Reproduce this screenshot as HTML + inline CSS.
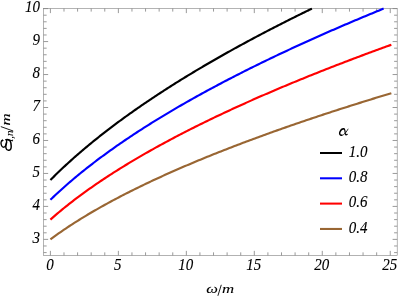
<!DOCTYPE html>
<html><head><meta charset="utf-8"><style>
html,body{margin:0;padding:0;background:#fff;}
body{width:399px;height:298px;overflow:hidden;}
svg{display:block;will-change:transform;opacity:0.9999;}
text{font-family:"Liberation Serif",serif;font-style:italic;font-size:15px;fill:#000;stroke:#000;stroke-width:0.1px;}
</style></head><body>
<svg width="399" height="298" viewBox="0 0 399 298">
<rect x="0" y="0" width="399" height="298" fill="#fff"/>
<rect x="43.55" y="8.50" width="353.65" height="246.95" fill="none" stroke="#808080" stroke-width="0.6"/>
<g stroke="#808080" stroke-width="0.8">
<line x1="50.40" y1="255.45" x2="50.40" y2="250.85"/>
<line x1="50.40" y1="8.50" x2="50.40" y2="13.10"/>
<line x1="63.99" y1="255.45" x2="63.99" y2="252.35"/>
<line x1="63.99" y1="8.50" x2="63.99" y2="11.60"/>
<line x1="77.59" y1="255.45" x2="77.59" y2="252.35"/>
<line x1="77.59" y1="8.50" x2="77.59" y2="11.60"/>
<line x1="91.18" y1="255.45" x2="91.18" y2="252.35"/>
<line x1="91.18" y1="8.50" x2="91.18" y2="11.60"/>
<line x1="104.78" y1="255.45" x2="104.78" y2="252.35"/>
<line x1="104.78" y1="8.50" x2="104.78" y2="11.60"/>
<line x1="118.37" y1="255.45" x2="118.37" y2="250.85"/>
<line x1="118.37" y1="8.50" x2="118.37" y2="13.10"/>
<line x1="131.96" y1="255.45" x2="131.96" y2="252.35"/>
<line x1="131.96" y1="8.50" x2="131.96" y2="11.60"/>
<line x1="145.56" y1="255.45" x2="145.56" y2="252.35"/>
<line x1="145.56" y1="8.50" x2="145.56" y2="11.60"/>
<line x1="159.15" y1="255.45" x2="159.15" y2="252.35"/>
<line x1="159.15" y1="8.50" x2="159.15" y2="11.60"/>
<line x1="172.75" y1="255.45" x2="172.75" y2="252.35"/>
<line x1="172.75" y1="8.50" x2="172.75" y2="11.60"/>
<line x1="186.34" y1="255.45" x2="186.34" y2="250.85"/>
<line x1="186.34" y1="8.50" x2="186.34" y2="13.10"/>
<line x1="199.93" y1="255.45" x2="199.93" y2="252.35"/>
<line x1="199.93" y1="8.50" x2="199.93" y2="11.60"/>
<line x1="213.53" y1="255.45" x2="213.53" y2="252.35"/>
<line x1="213.53" y1="8.50" x2="213.53" y2="11.60"/>
<line x1="227.12" y1="255.45" x2="227.12" y2="252.35"/>
<line x1="227.12" y1="8.50" x2="227.12" y2="11.60"/>
<line x1="240.72" y1="255.45" x2="240.72" y2="252.35"/>
<line x1="240.72" y1="8.50" x2="240.72" y2="11.60"/>
<line x1="254.31" y1="255.45" x2="254.31" y2="250.85"/>
<line x1="254.31" y1="8.50" x2="254.31" y2="13.10"/>
<line x1="267.90" y1="255.45" x2="267.90" y2="252.35"/>
<line x1="267.90" y1="8.50" x2="267.90" y2="11.60"/>
<line x1="281.50" y1="255.45" x2="281.50" y2="252.35"/>
<line x1="281.50" y1="8.50" x2="281.50" y2="11.60"/>
<line x1="295.09" y1="255.45" x2="295.09" y2="252.35"/>
<line x1="295.09" y1="8.50" x2="295.09" y2="11.60"/>
<line x1="308.69" y1="255.45" x2="308.69" y2="252.35"/>
<line x1="308.69" y1="8.50" x2="308.69" y2="11.60"/>
<line x1="322.28" y1="255.45" x2="322.28" y2="250.85"/>
<line x1="322.28" y1="8.50" x2="322.28" y2="13.10"/>
<line x1="335.87" y1="255.45" x2="335.87" y2="252.35"/>
<line x1="335.87" y1="8.50" x2="335.87" y2="11.60"/>
<line x1="349.47" y1="255.45" x2="349.47" y2="252.35"/>
<line x1="349.47" y1="8.50" x2="349.47" y2="11.60"/>
<line x1="363.06" y1="255.45" x2="363.06" y2="252.35"/>
<line x1="363.06" y1="8.50" x2="363.06" y2="11.60"/>
<line x1="376.66" y1="255.45" x2="376.66" y2="252.35"/>
<line x1="376.66" y1="8.50" x2="376.66" y2="11.60"/>
<line x1="390.25" y1="255.45" x2="390.25" y2="250.85"/>
<line x1="390.25" y1="8.50" x2="390.25" y2="13.10"/>
<line x1="43.55" y1="252.58" x2="46.65" y2="252.58"/>
<line x1="397.20" y1="252.58" x2="394.10" y2="252.58"/>
<line x1="43.55" y1="245.98" x2="46.65" y2="245.98"/>
<line x1="397.20" y1="245.98" x2="394.10" y2="245.98"/>
<line x1="43.55" y1="239.39" x2="48.15" y2="239.39"/>
<line x1="397.20" y1="239.39" x2="392.60" y2="239.39"/>
<line x1="43.55" y1="232.80" x2="46.65" y2="232.80"/>
<line x1="397.20" y1="232.80" x2="394.10" y2="232.80"/>
<line x1="43.55" y1="226.20" x2="46.65" y2="226.20"/>
<line x1="397.20" y1="226.20" x2="394.10" y2="226.20"/>
<line x1="43.55" y1="219.61" x2="46.65" y2="219.61"/>
<line x1="397.20" y1="219.61" x2="394.10" y2="219.61"/>
<line x1="43.55" y1="213.01" x2="46.65" y2="213.01"/>
<line x1="397.20" y1="213.01" x2="394.10" y2="213.01"/>
<line x1="43.55" y1="206.42" x2="48.15" y2="206.42"/>
<line x1="397.20" y1="206.42" x2="392.60" y2="206.42"/>
<line x1="43.55" y1="199.83" x2="46.65" y2="199.83"/>
<line x1="397.20" y1="199.83" x2="394.10" y2="199.83"/>
<line x1="43.55" y1="193.23" x2="46.65" y2="193.23"/>
<line x1="397.20" y1="193.23" x2="394.10" y2="193.23"/>
<line x1="43.55" y1="186.64" x2="46.65" y2="186.64"/>
<line x1="397.20" y1="186.64" x2="394.10" y2="186.64"/>
<line x1="43.55" y1="180.04" x2="46.65" y2="180.04"/>
<line x1="397.20" y1="180.04" x2="394.10" y2="180.04"/>
<line x1="43.55" y1="173.45" x2="48.15" y2="173.45"/>
<line x1="397.20" y1="173.45" x2="392.60" y2="173.45"/>
<line x1="43.55" y1="166.86" x2="46.65" y2="166.86"/>
<line x1="397.20" y1="166.86" x2="394.10" y2="166.86"/>
<line x1="43.55" y1="160.26" x2="46.65" y2="160.26"/>
<line x1="397.20" y1="160.26" x2="394.10" y2="160.26"/>
<line x1="43.55" y1="153.67" x2="46.65" y2="153.67"/>
<line x1="397.20" y1="153.67" x2="394.10" y2="153.67"/>
<line x1="43.55" y1="147.07" x2="46.65" y2="147.07"/>
<line x1="397.20" y1="147.07" x2="394.10" y2="147.07"/>
<line x1="43.55" y1="140.48" x2="48.15" y2="140.48"/>
<line x1="397.20" y1="140.48" x2="392.60" y2="140.48"/>
<line x1="43.55" y1="133.89" x2="46.65" y2="133.89"/>
<line x1="397.20" y1="133.89" x2="394.10" y2="133.89"/>
<line x1="43.55" y1="127.29" x2="46.65" y2="127.29"/>
<line x1="397.20" y1="127.29" x2="394.10" y2="127.29"/>
<line x1="43.55" y1="120.70" x2="46.65" y2="120.70"/>
<line x1="397.20" y1="120.70" x2="394.10" y2="120.70"/>
<line x1="43.55" y1="114.10" x2="46.65" y2="114.10"/>
<line x1="397.20" y1="114.10" x2="394.10" y2="114.10"/>
<line x1="43.55" y1="107.51" x2="48.15" y2="107.51"/>
<line x1="397.20" y1="107.51" x2="392.60" y2="107.51"/>
<line x1="43.55" y1="100.92" x2="46.65" y2="100.92"/>
<line x1="397.20" y1="100.92" x2="394.10" y2="100.92"/>
<line x1="43.55" y1="94.32" x2="46.65" y2="94.32"/>
<line x1="397.20" y1="94.32" x2="394.10" y2="94.32"/>
<line x1="43.55" y1="87.73" x2="46.65" y2="87.73"/>
<line x1="397.20" y1="87.73" x2="394.10" y2="87.73"/>
<line x1="43.55" y1="81.13" x2="46.65" y2="81.13"/>
<line x1="397.20" y1="81.13" x2="394.10" y2="81.13"/>
<line x1="43.55" y1="74.54" x2="48.15" y2="74.54"/>
<line x1="397.20" y1="74.54" x2="392.60" y2="74.54"/>
<line x1="43.55" y1="67.95" x2="46.65" y2="67.95"/>
<line x1="397.20" y1="67.95" x2="394.10" y2="67.95"/>
<line x1="43.55" y1="61.35" x2="46.65" y2="61.35"/>
<line x1="397.20" y1="61.35" x2="394.10" y2="61.35"/>
<line x1="43.55" y1="54.76" x2="46.65" y2="54.76"/>
<line x1="397.20" y1="54.76" x2="394.10" y2="54.76"/>
<line x1="43.55" y1="48.16" x2="46.65" y2="48.16"/>
<line x1="397.20" y1="48.16" x2="394.10" y2="48.16"/>
<line x1="43.55" y1="41.57" x2="48.15" y2="41.57"/>
<line x1="397.20" y1="41.57" x2="392.60" y2="41.57"/>
<line x1="43.55" y1="34.98" x2="46.65" y2="34.98"/>
<line x1="397.20" y1="34.98" x2="394.10" y2="34.98"/>
<line x1="43.55" y1="28.38" x2="46.65" y2="28.38"/>
<line x1="397.20" y1="28.38" x2="394.10" y2="28.38"/>
<line x1="43.55" y1="21.79" x2="46.65" y2="21.79"/>
<line x1="397.20" y1="21.79" x2="394.10" y2="21.79"/>
<line x1="43.55" y1="15.19" x2="46.65" y2="15.19"/>
<line x1="397.20" y1="15.19" x2="394.10" y2="15.19"/>
<line x1="43.55" y1="8.60" x2="48.15" y2="8.60"/>
<line x1="397.20" y1="8.60" x2="392.60" y2="8.60"/>
</g>
<g>
<path d="M50.40,180.04 L51.71,178.73 L53.02,177.42 L54.32,176.13 L55.63,174.84 L56.94,173.57 L58.25,172.30 L59.55,171.05 L60.86,169.80 L62.17,168.57 L63.48,167.34 L64.79,166.12 L66.09,164.91 L67.40,163.71 L68.71,162.51 L70.02,161.33 L71.32,160.15 L72.63,158.98 L73.94,157.82 L75.25,156.66 L76.55,155.51 L77.86,154.37 L79.17,153.24 L80.48,152.11 L81.79,150.99 L83.09,149.88 L84.40,148.77 L85.71,147.67 L87.02,146.58 L88.32,145.49 L89.63,144.41 L90.94,143.33 L92.25,142.26 L93.56,141.20 L94.86,140.14 L96.17,139.09 L97.48,138.04 L98.79,137.00 L100.09,135.96 L101.40,134.93 L102.71,133.91 L104.02,132.89 L105.33,131.87 L106.63,130.86 L107.94,129.85 L109.25,128.85 L110.56,127.86 L111.86,126.87 L113.17,125.88 L114.48,124.90 L115.79,123.92 L117.09,122.95 L118.40,121.98 L119.71,121.01 L121.02,120.05 L122.33,119.10 L123.63,118.14 L124.94,117.20 L126.25,116.25 L127.56,115.31 L128.86,114.38 L130.17,113.44 L131.48,112.52 L132.79,111.59 L134.10,110.67 L135.40,109.75 L136.71,108.84 L138.02,107.93 L139.33,107.02 L140.63,106.12 L141.94,105.22 L143.25,104.33 L144.56,103.44 L145.87,102.55 L147.17,101.66 L148.48,100.78 L149.79,99.90 L151.10,99.02 L152.40,98.15 L153.71,97.28 L155.02,96.42 L156.33,95.55 L157.63,94.69 L158.94,93.84 L160.25,92.98 L161.56,92.13 L162.87,91.28 L164.17,90.44 L165.48,89.60 L166.79,88.76 L168.10,87.92 L169.40,87.09 L170.71,86.25 L172.02,85.43 L173.33,84.60 L174.64,83.78 L175.94,82.96 L177.25,82.14 L178.56,81.32 L179.87,80.51 L181.17,79.70 L182.48,78.89 L183.79,78.09 L185.10,77.29 L186.41,76.49 L187.71,75.69 L189.02,74.89 L190.33,74.10 L191.64,73.31 L192.94,72.52 L194.25,71.74 L195.56,70.95 L196.87,70.17 L198.17,69.39 L199.48,68.62 L200.79,67.84 L202.10,67.07 L203.41,66.30 L204.71,65.53 L206.02,64.77 L207.33,64.00 L208.64,63.24 L209.94,62.48 L211.25,61.72 L212.56,60.97 L213.87,60.22 L215.18,59.47 L216.48,58.72 L217.79,57.97 L219.10,57.22 L220.41,56.48 L221.71,55.74 L223.02,55.00 L224.33,54.26 L225.64,53.53 L226.95,52.79 L228.25,52.06 L229.56,51.33 L230.87,50.61 L232.18,49.88 L233.48,49.15 L234.79,48.43 L236.10,47.71 L237.41,46.99 L238.71,46.28 L240.02,45.56 L241.33,44.85 L242.64,44.14 L243.95,43.43 L245.25,42.72 L246.56,42.01 L247.87,41.30 L249.18,40.60 L250.48,39.90 L251.79,39.20 L253.10,38.50 L254.41,37.80 L255.72,37.11 L257.02,36.42 L258.33,35.72 L259.64,35.03 L260.95,34.34 L262.25,33.66 L263.56,32.97 L264.87,32.29 L266.18,31.60 L267.49,30.92 L268.79,30.24 L270.10,29.57 L271.41,28.89 L272.72,28.21 L274.02,27.54 L275.33,26.87 L276.64,26.20 L277.95,25.53 L279.25,24.86 L280.56,24.19 L281.87,23.53 L283.18,22.86 L284.49,22.20 L285.79,21.54 L287.10,20.88 L288.41,20.22 L289.72,19.57 L291.02,18.91 L292.33,18.26 L293.64,17.60 L294.95,16.95 L296.26,16.30 L297.56,15.65 L298.87,15.01 L300.18,14.36 L301.49,13.71 L302.79,13.07 L304.10,12.43 L305.41,11.79 L306.72,11.15 L308.03,10.51 L309.33,9.87 L310.64,9.23 L311.95,8.60" stroke="#000000" stroke-width="2.15" fill="none" stroke-linejoin="round"/>
<path d="M50.40,199.83 L52.07,198.22 L53.73,196.63 L55.40,195.06 L57.06,193.51 L58.73,191.97 L60.40,190.45 L62.06,188.94 L63.73,187.45 L65.39,185.97 L67.06,184.51 L68.73,183.06 L70.39,181.63 L72.06,180.20 L73.73,178.79 L75.39,177.40 L77.06,176.01 L78.72,174.64 L80.39,173.28 L82.06,171.93 L83.72,170.59 L85.39,169.26 L87.05,167.94 L88.72,166.63 L90.39,165.33 L92.05,164.04 L93.72,162.76 L95.38,161.49 L97.05,160.23 L98.72,158.98 L100.38,157.73 L102.05,156.50 L103.71,155.27 L105.38,154.05 L107.05,152.84 L108.71,151.64 L110.38,150.44 L112.04,149.26 L113.71,148.08 L115.38,146.90 L117.04,145.74 L118.71,144.58 L120.38,143.43 L122.04,142.28 L123.71,141.14 L125.37,140.01 L127.04,138.89 L128.71,137.77 L130.37,136.65 L132.04,135.55 L133.70,134.45 L135.37,133.35 L137.04,132.26 L138.70,131.18 L140.37,130.10 L142.03,129.03 L143.70,127.96 L145.37,126.90 L147.03,125.84 L148.70,124.79 L150.36,123.75 L152.03,122.71 L153.70,121.67 L155.36,120.64 L157.03,119.61 L158.69,118.59 L160.36,117.58 L162.03,116.56 L163.69,115.56 L165.36,114.55 L167.03,113.56 L168.69,112.56 L170.36,111.57 L172.02,110.59 L173.69,109.61 L175.36,108.63 L177.02,107.66 L178.69,106.69 L180.35,105.73 L182.02,104.77 L183.69,103.81 L185.35,102.86 L187.02,101.91 L188.68,100.96 L190.35,100.02 L192.02,99.08 L193.68,98.15 L195.35,97.22 L197.01,96.29 L198.68,95.37 L200.35,94.45 L202.01,93.54 L203.68,92.62 L205.34,91.71 L207.01,90.81 L208.68,89.90 L210.34,89.00 L212.01,88.11 L213.68,87.22 L215.34,86.33 L217.01,85.44 L218.67,84.56 L220.34,83.68 L222.01,82.80 L223.67,81.92 L225.34,81.05 L227.00,80.18 L228.67,79.32 L230.34,78.45 L232.00,77.59 L233.67,76.74 L235.33,75.88 L237.00,75.03 L238.67,74.18 L240.33,73.34 L242.00,72.49 L243.66,71.65 L245.33,70.81 L247.00,69.98 L248.66,69.15 L250.33,68.32 L251.99,67.49 L253.66,66.66 L255.33,65.84 L256.99,65.02 L258.66,64.20 L260.33,63.39 L261.99,62.57 L263.66,61.76 L265.32,60.96 L266.99,60.15 L268.66,59.35 L270.32,58.54 L271.99,57.75 L273.65,56.95 L275.32,56.15 L276.99,55.36 L278.65,54.57 L280.32,53.79 L281.98,53.00 L283.65,52.22 L285.32,51.43 L286.98,50.66 L288.65,49.88 L290.31,49.10 L291.98,48.33 L293.65,47.56 L295.31,46.79 L296.98,46.02 L298.65,45.26 L300.31,44.50 L301.98,43.74 L303.64,42.98 L305.31,42.22 L306.98,41.47 L308.64,40.71 L310.31,39.96 L311.97,39.21 L313.64,38.46 L315.31,37.72 L316.97,36.98 L318.64,36.23 L320.30,35.49 L321.97,34.75 L323.64,34.02 L325.30,33.28 L326.97,32.55 L328.63,31.82 L330.30,31.09 L331.97,30.36 L333.63,29.64 L335.30,28.91 L336.96,28.19 L338.63,27.47 L340.30,26.75 L341.96,26.03 L343.63,25.32 L345.30,24.60 L346.96,23.89 L348.63,23.18 L350.29,22.47 L351.96,21.76 L353.63,21.05 L355.29,20.35 L356.96,19.65 L358.62,18.95 L360.29,18.25 L361.96,17.55 L363.62,16.85 L365.29,16.15 L366.95,15.46 L368.62,14.77 L370.29,14.08 L371.95,13.39 L373.62,12.70 L375.28,12.01 L376.95,11.33 L378.62,10.64 L380.28,9.96 L381.95,9.28 L383.61,8.60" stroke="#0000ff" stroke-width="2.15" fill="none" stroke-linejoin="round"/>
<path d="M50.40,219.61 L52.10,218.10 L53.81,216.61 L55.51,215.14 L57.22,213.68 L58.92,212.25 L60.63,210.82 L62.33,209.42 L64.04,208.03 L65.74,206.65 L67.45,205.29 L69.15,203.94 L70.86,202.61 L72.56,201.28 L74.27,199.98 L75.97,198.68 L77.68,197.39 L79.38,196.12 L81.08,194.86 L82.79,193.61 L84.49,192.37 L86.20,191.14 L87.90,189.92 L89.61,188.71 L91.31,187.51 L93.02,186.32 L94.72,185.14 L96.43,183.97 L98.13,182.80 L99.84,181.65 L101.54,180.50 L103.25,179.36 L104.95,178.23 L106.65,177.11 L108.36,176.00 L110.06,174.89 L111.77,173.79 L113.47,172.70 L115.18,171.62 L116.88,170.54 L118.59,169.47 L120.29,168.40 L122.00,167.35 L123.70,166.30 L125.41,165.25 L127.11,164.21 L128.82,163.18 L130.52,162.15 L132.23,161.13 L133.93,160.12 L135.63,159.11 L137.34,158.11 L139.04,157.11 L140.75,156.12 L142.45,155.13 L144.16,154.15 L145.86,153.18 L147.57,152.21 L149.27,151.24 L150.98,150.28 L152.68,149.32 L154.39,148.37 L156.09,147.43 L157.80,146.48 L159.50,145.55 L161.20,144.61 L162.91,143.69 L164.61,142.76 L166.32,141.84 L168.02,140.93 L169.73,140.02 L171.43,139.11 L173.14,138.21 L174.84,137.31 L176.55,136.41 L178.25,135.52 L179.96,134.64 L181.66,133.75 L183.37,132.87 L185.07,132.00 L186.78,131.13 L188.48,130.26 L190.18,129.39 L191.89,128.53 L193.59,127.68 L195.30,126.82 L197.00,125.97 L198.71,125.13 L200.41,124.28 L202.12,123.44 L203.82,122.60 L205.53,121.77 L207.23,120.94 L208.94,120.11 L210.64,119.29 L212.35,118.47 L214.05,117.65 L215.75,116.83 L217.46,116.02 L219.16,115.21 L220.87,114.41 L222.57,113.60 L224.28,112.80 L225.98,112.00 L227.69,111.21 L229.39,110.42 L231.10,109.63 L232.80,108.84 L234.51,108.06 L236.21,107.28 L237.92,106.50 L239.62,105.72 L241.33,104.95 L243.03,104.18 L244.73,103.41 L246.44,102.64 L248.14,101.88 L249.85,101.12 L251.55,100.36 L253.26,99.60 L254.96,98.85 L256.67,98.10 L258.37,97.35 L260.08,96.60 L261.78,95.86 L263.49,95.11 L265.19,94.37 L266.90,93.64 L268.60,92.90 L270.30,92.17 L272.01,91.44 L273.71,90.71 L275.42,89.98 L277.12,89.26 L278.83,88.53 L280.53,87.81 L282.24,87.10 L283.94,86.38 L285.65,85.67 L287.35,84.95 L289.06,84.24 L290.76,83.53 L292.47,82.83 L294.17,82.12 L295.88,81.42 L297.58,80.72 L299.28,80.02 L300.99,79.32 L302.69,78.63 L304.40,77.94 L306.10,77.25 L307.81,76.56 L309.51,75.87 L311.22,75.18 L312.92,74.50 L314.63,73.82 L316.33,73.14 L318.04,72.46 L319.74,71.78 L321.45,71.11 L323.15,70.43 L324.85,69.76 L326.56,69.09 L328.26,68.42 L329.97,67.75 L331.67,67.09 L333.38,66.43 L335.08,65.76 L336.79,65.10 L338.49,64.44 L340.20,63.79 L341.90,63.13 L343.61,62.48 L345.31,61.82 L347.02,61.17 L348.72,60.52 L350.43,59.88 L352.13,59.23 L353.83,58.58 L355.54,57.94 L357.24,57.30 L358.95,56.66 L360.65,56.02 L362.36,55.38 L364.06,54.75 L365.77,54.11 L367.47,53.48 L369.18,52.85 L370.88,52.21 L372.59,51.59 L374.29,50.96 L376.00,50.33 L377.70,49.71 L379.40,49.08 L381.11,48.46 L382.81,47.84 L384.52,47.22 L386.22,46.60 L387.93,45.98 L389.63,45.37 L391.34,44.75" stroke="#ff0000" stroke-width="2.15" fill="none" stroke-linejoin="round"/>
<path d="M50.40,239.39 L52.10,238.13 L53.81,236.88 L55.51,235.65 L57.22,234.43 L58.92,233.23 L60.63,232.04 L62.33,230.86 L64.04,229.69 L65.74,228.54 L67.45,227.40 L69.15,226.27 L70.86,225.16 L72.56,224.05 L74.27,222.96 L75.97,221.87 L77.68,220.80 L79.38,219.73 L81.08,218.68 L82.79,217.63 L84.49,216.59 L86.20,215.56 L87.90,214.54 L89.61,213.53 L91.31,212.53 L93.02,211.53 L94.72,210.54 L96.43,209.56 L98.13,208.59 L99.84,207.62 L101.54,206.66 L103.25,205.71 L104.95,204.77 L106.65,203.83 L108.36,202.90 L110.06,201.97 L111.77,201.05 L113.47,200.14 L115.18,199.23 L116.88,198.33 L118.59,197.43 L120.29,196.54 L122.00,195.66 L123.70,194.78 L125.41,193.91 L127.11,193.04 L128.82,192.18 L130.52,191.32 L132.23,190.47 L133.93,189.62 L135.63,188.77 L137.34,187.94 L139.04,187.10 L140.75,186.27 L142.45,185.45 L144.16,184.63 L145.86,183.81 L147.57,183.00 L149.27,182.19 L150.98,181.39 L152.68,180.59 L154.39,179.79 L156.09,179.00 L157.80,178.21 L159.50,177.43 L161.20,176.65 L162.91,175.87 L164.61,175.10 L166.32,174.33 L168.02,173.57 L169.73,172.81 L171.43,172.05 L173.14,171.29 L174.84,170.54 L176.55,169.80 L178.25,169.05 L179.96,168.31 L181.66,167.57 L183.37,166.84 L185.07,166.10 L186.78,165.38 L188.48,164.65 L190.18,163.93 L191.89,163.21 L193.59,162.49 L195.30,161.78 L197.00,161.07 L198.71,160.36 L200.41,159.65 L202.12,158.95 L203.82,158.25 L205.53,157.55 L207.23,156.86 L208.94,156.17 L210.64,155.48 L212.35,154.79 L214.05,154.11 L215.75,153.43 L217.46,152.75 L219.16,152.07 L220.87,151.40 L222.57,150.73 L224.28,150.06 L225.98,149.39 L227.69,148.72 L229.39,148.06 L231.10,147.40 L232.80,146.75 L234.51,146.09 L236.21,145.44 L237.92,144.79 L239.62,144.14 L241.33,143.49 L243.03,142.85 L244.73,142.20 L246.44,141.56 L248.14,140.93 L249.85,140.29 L251.55,139.66 L253.26,139.02 L254.96,138.39 L256.67,137.77 L258.37,137.14 L260.08,136.51 L261.78,135.89 L263.49,135.27 L265.19,134.65 L266.90,134.04 L268.60,133.42 L270.30,132.81 L272.01,132.20 L273.71,131.59 L275.42,130.98 L277.12,130.38 L278.83,129.77 L280.53,129.17 L282.24,128.57 L283.94,127.97 L285.65,127.37 L287.35,126.78 L289.06,126.19 L290.76,125.59 L292.47,125.00 L294.17,124.41 L295.88,123.83 L297.58,123.24 L299.28,122.66 L300.99,122.08 L302.69,121.49 L304.40,120.92 L306.10,120.34 L307.81,119.76 L309.51,119.19 L311.22,118.61 L312.92,118.04 L314.63,117.47 L316.33,116.90 L318.04,116.34 L319.74,115.77 L321.45,115.21 L323.15,114.64 L324.85,114.08 L326.56,113.52 L328.26,112.96 L329.97,112.40 L331.67,111.85 L333.38,111.29 L335.08,110.74 L336.79,110.19 L338.49,109.64 L340.20,109.09 L341.90,108.54 L343.61,107.99 L345.31,107.45 L347.02,106.91 L348.72,106.36 L350.43,105.82 L352.13,105.28 L353.83,104.74 L355.54,104.20 L357.24,103.67 L358.95,103.13 L360.65,102.60 L362.36,102.06 L364.06,101.53 L365.77,101.00 L367.47,100.47 L369.18,99.95 L370.88,99.42 L372.59,98.89 L374.29,98.37 L376.00,97.84 L377.70,97.32 L379.40,96.80 L381.11,96.28 L382.81,95.76 L384.52,95.24 L386.22,94.73 L387.93,94.21 L389.63,93.70 L391.34,93.18" stroke="#996633" stroke-width="2.15" fill="none" stroke-linejoin="round"/>
</g>
<g>
<text transform="translate(49.90 270.20) scale(1.000 1.060)" text-anchor="middle">0</text>
<text transform="translate(117.87 270.20) scale(1.000 1.060)" text-anchor="middle">5</text>
<text transform="translate(185.84 270.20) scale(1.000 1.060)" text-anchor="middle">10</text>
<text transform="translate(253.81 270.20) scale(1.000 1.060)" text-anchor="middle">15</text>
<text transform="translate(321.78 270.20) scale(1.000 1.060)" text-anchor="middle">20</text>
<text transform="translate(389.75 270.20) scale(1.000 1.060)" text-anchor="middle">25</text>
<text transform="translate(40.00 243.19) scale(1.000 1.060)" text-anchor="end">3</text>
<text transform="translate(40.00 210.22) scale(1.000 1.060)" text-anchor="end">4</text>
<text transform="translate(40.00 177.25) scale(1.000 1.060)" text-anchor="end">5</text>
<text transform="translate(40.00 144.28) scale(1.000 1.060)" text-anchor="end">6</text>
<text transform="translate(40.00 111.31) scale(1.000 1.060)" text-anchor="end">7</text>
<text transform="translate(40.00 78.34) scale(1.000 1.060)" text-anchor="end">8</text>
<text transform="translate(40.00 45.37) scale(1.000 1.060)" text-anchor="end">9</text>
<text transform="translate(40.00 12.40) scale(1.000 1.060)" text-anchor="end">10</text>
</g>
<g>
<line x1="320.0" y1="153.00" x2="342.0" y2="153.00" stroke="#000000" stroke-width="2.05"/>
<text transform="translate(348.80 156.75) scale(1.000 1.060)" text-anchor="start">1.0</text>
<line x1="320.0" y1="178.30" x2="342.0" y2="178.30" stroke="#0000ff" stroke-width="2.05"/>
<text transform="translate(348.80 182.05) scale(1.000 1.060)" text-anchor="start">0.8</text>
<line x1="320.0" y1="203.60" x2="342.0" y2="203.60" stroke="#ff0000" stroke-width="2.05"/>
<text transform="translate(348.80 207.35) scale(1.000 1.060)" text-anchor="start">0.6</text>
<line x1="320.0" y1="228.95" x2="342.0" y2="228.95" stroke="#996633" stroke-width="2.05"/>
<text transform="translate(348.80 232.70) scale(1.000 1.060)" text-anchor="start">0.4</text>
<g fill="none" stroke="#000" stroke-linecap="round" stroke-linejoin="round">
<path d="M348.0,129.1 C346.6,131.5 344.4,135.3 341.7,135.3" stroke-width="0.8"/>
<path d="M341.7,135.3 C339.8,135.3 339.2,133.6 340.0,131.8 C340.8,129.9 342.4,128.7 343.8,128.8" stroke-width="1.5"/>
<path d="M343.8,128.8 C345.1,128.9 345.1,131.1 345.2,133.2 C345.3,134.8 345.9,135.4 347.2,134.3" stroke-width="1.2"/>
</g>
</g>
<text transform="translate(206.20 293.00) scale(1.100 0.820)" text-anchor="start">ω</text>
<line x1="221.3" y1="284.8" x2="217.9" y2="295.8" stroke="#000" stroke-width="0.9"/>
<text transform="translate(221.90 293.00) scale(1.120 0.867)" text-anchor="start">m</text>
<g fill="none" stroke="#000" stroke-linecap="round" stroke-linejoin="round">
<path d="M2.4,140.3 C1.3,140.5 0.9,142.4 1.1,144.0 C1.4,146.0 2.5,147.4 3.7,147.2 C5.0,147.0 6.1,145 6.5,142.8 C6.7,141.6 6.6,140.2 6.1,139.6" stroke-width="1.35"/>
<path d="M6.5,142.8 C5.9,144.5 5.6,146.5 6.0,148.1 C6.4,149.8 7.7,150.5 9.0,150.3 C10.5,150.1 11.3,148.4 11.2,146 C11.1,143.5 10.8,141.4 9.7,140.4 C8.8,139.7 7.2,139.4 6.1,139.6" stroke-width="1.45"/>
<circle cx="2.3" cy="140.5" r="0.7" fill="#000" stroke-width="0.5"/>
</g>
<g transform="translate(10.4 151) rotate(-90)">
<text x="9.2" y="2.9" style="font-size:11px">l,n</text>
<line x1="20.0" y1="2.8" x2="24.4" y2="-9.6" stroke="#000" stroke-width="0.9"/>
<text transform="translate(25.60 0.00) scale(1.120 0.867)" text-anchor="start">m</text>
</g>
</svg>
</body></html>
